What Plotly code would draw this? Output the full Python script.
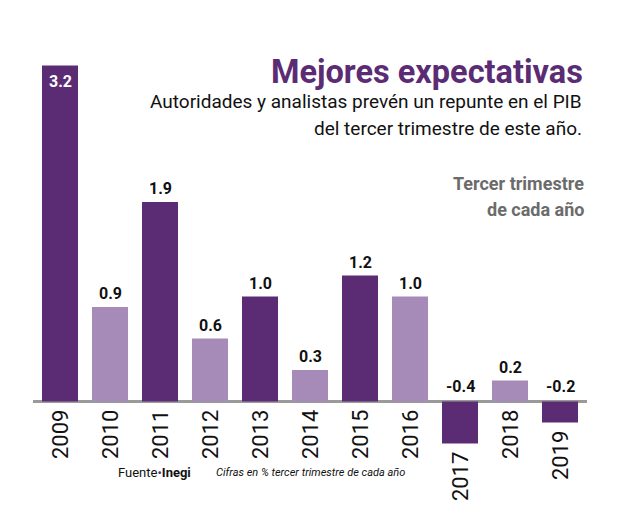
import plotly.graph_objects as go

years = ["2009", "2010", "2011", "2012", "2013", "2014", "2015", "2016", "2017", "2018", "2019"]
values = [3.2, 0.9, 1.9, 0.6, 1.0, 0.3, 1.2, 1.0, -0.4, 0.2, -0.2]
value_labels = ["3.2", "0.9", "1.9", "0.6", "1.0", "0.3", "1.2", "1.0", "-0.4", "0.2", "-0.2"]

DARK = "#5b2c74"
LIGHT = "#a68bb8"
colors = [DARK if i % 2 == 0 else LIGHT for i in range(len(years))]

OFF = 8  # page body margin
W, H = 620 - OFF, 530 - OFF
ML, MR, MT, MB = 33 - OFF, 33, 40 - OFF, 30
PW = W - ML - MR
PH = H - MT - MB

def px(x):
    return (x - OFF - ML) / PW

def py(y):
    return (H - MB - (y - OFF)) / PH

idx = list(range(len(years)))

fig = go.Figure()
fig.add_trace(go.Bar(
    x=idx, y=values, marker=dict(color=colors, line=dict(width=0)),
    hoverinfo="skip", showlegend=False,
))

annotations = []
for i, yr, v, lab in zip(idx, years, values, value_labels):
    if v > 3:
        annotations.append(dict(x=i, y=v, xref="x", yref="y", text=f"<b>{lab}</b>",
                                showarrow=False, yanchor="top", yshift=-4,
                                font=dict(family="Roboto", size=16, color="white")))
    elif v >= 0:
        annotations.append(dict(x=i, y=v, xref="x", yref="y", text=f"<b>{lab}</b>",
                                showarrow=False, yanchor="bottom", yshift=2,
                                font=dict(family="Roboto", size=16, color="#111")))
    else:
        annotations.append(dict(x=i, y=0, xref="x", yref="y", text=f"<b>{lab}</b>",
                                showarrow=False, yanchor="bottom", yshift=4,
                                font=dict(family="Roboto", size=16, color="#111")))
    annotations.append(dict(x=i, y=min(v, 0), xref="x", yref="y", text=yr,
                            showarrow=False, yanchor="top", yshift=-7, textangle=-90,
                            font=dict(family="Roboto", size=22, color="#111")))

annotations += [
    dict(x=px(585), y=py(72), xref="paper", yref="paper", xanchor="right", yanchor="middle",
         text="<b>Mejores expectativas</b>", showarrow=False,
         font=dict(family="Roboto", size=32.5, color=DARK, weight=900)),
    dict(x=px(584), y=py(101), xref="paper", yref="paper", xanchor="right", yanchor="middle",
         text="Autoridades y analistas prevén un repunte en el PIB", showarrow=False,
         font=dict(family="Roboto", size=19, color="#111")),
    dict(x=px(584), y=py(128), xref="paper", yref="paper", xanchor="right", yanchor="middle",
         text="del tercer trimestre de este año.", showarrow=False,
         font=dict(family="Roboto", size=19, color="#111")),
    dict(x=px(586), y=py(183), xref="paper", yref="paper", xanchor="right", yanchor="middle",
         text="<b>Tercer trimestre</b>", showarrow=False,
         font=dict(family="Roboto", size=18, color="#6b6b6b")),
    dict(x=px(586), y=py(209), xref="paper", yref="paper", xanchor="right", yanchor="middle",
         text="<b>de cada año</b>", showarrow=False,
         font=dict(family="Roboto", size=18, color="#6b6b6b")),
    dict(x=px(116), y=py(472), xref="paper", yref="paper", xanchor="left", yanchor="middle",
         text=f"Fuente<span style='color:{DARK}'>•</span><b>Inegi</b>", showarrow=False,
         font=dict(family="Roboto", size=13, color="#111")),
    dict(x=px(214), y=py(472), xref="paper", yref="paper", xanchor="left", yanchor="middle",
         text="<i>Cifras en % tercer trimestre de cada año</i>", showarrow=False,
         font=dict(family="Roboto", size=11, color="#111")),
]

K = 105.0
BASE = 401.5 - OFF
ymax = (BASE - MT) / K
ymin = -(H - MB - BASE) / K

fig.update_layout(
    width=W, height=H,
    margin=dict(l=ML, r=MR, t=MT, b=MB, pad=0),
    paper_bgcolor="white", plot_bgcolor="white",
    bargap=0.28,
    xaxis=dict(range=[-0.54, 10.54], showticklabels=False,
               showgrid=False, zeroline=False, showline=False, fixedrange=True),
    yaxis=dict(range=[ymin, ymax], showticklabels=False, showgrid=False,
               zeroline=True, zerolinecolor="#9a9a9a", zerolinewidth=2.5,
               showline=False, fixedrange=True),
    annotations=annotations,
)

fig.write_html("out.html")
